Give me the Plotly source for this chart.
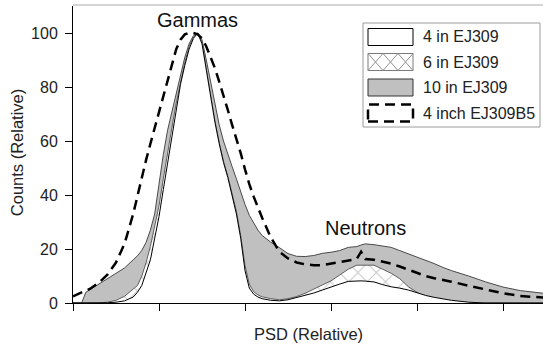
import plotly.graph_objects as go

# PSD axis (relative units, unlabeled ticks at integers)
psd = [0, 0.1, 0.15, 0.2, 0.3, 0.4, 0.5, 0.6, 0.7, 0.75, 0.8, 0.85, 0.9, 0.95,
       1.0, 1.05, 1.1, 1.15, 1.2, 1.25, 1.3, 1.35, 1.4, 1.45, 1.5, 1.55, 1.6,
       1.65, 1.7, 1.75, 1.8, 1.85, 1.9, 1.95, 2.0, 2.05, 2.1, 2.15, 2.2, 2.3,
       2.4, 2.5, 2.6, 2.7, 2.8, 2.9, 3.0, 3.1, 3.2, 3.3, 3.35, 3.4, 3.5, 3.6,
       3.7, 3.8, 3.9, 4.0, 4.1, 4.2, 4.3, 4.4, 4.6, 4.8, 5.0, 5.2, 5.47]

ej309_4in = [0, 0, 0, 0, 0, 0.1, 0.3, 0.8, 2.2, 4, 6.5, 11, 16, 24,
             32, 42, 52, 62, 72, 81, 88, 94, 98, 100, 96, 86, 76,
             67, 59, 52, 46.5, 40, 33, 24, 12, 5.5, 3.3, 2.2, 1.6, 1.0,
             0.8, 1.2, 2, 2.8, 3.7, 4.8, 6, 7, 8, 8.2, 8.2, 8.1, 7.8, 6.8,
             6, 5.5, 4.8, 3.8, 2.8, 2.1, 1.5, 1.0, 0.3, 0, 0, 0, 0]

ej309_6in = [0, 0, 0, 0, 0.1, 0.3, 1.0, 2.5, 5, 6.5, 10, 15, 21, 28,
             36, 46, 56, 65, 74, 82, 89, 95, 98.5, 100, 96.5, 86.5, 76.5,
             67.5, 59.5, 52.5, 47, 41, 34, 25, 14, 7, 4.2, 3, 2.3, 1.6,
             1.2, 1.6, 2.4, 3.6, 5, 6.7, 8.2, 10.3, 12.5, 14, 14, 14, 14, 12.5,
             11, 9, 6, 4, 2, 1.2, 0.7, 0.3, 0, 0, 0, 0, 0]

ej309_10in = [0, 0, 4, 5, 7, 9, 10.8, 13, 16, 17.5, 19.5, 22.5, 27, 33,
              44, 55, 64, 71, 78, 85, 91, 96, 99, 100, 97.5, 90, 82,
              74, 66, 60, 55, 50.5, 46, 41, 36.5, 32.5, 29.5, 27, 25, 22.5,
              20.5, 18.3, 17.3, 17.2, 17.6, 18.4, 18.8, 19.4, 20.6, 20.9, 21.5, 21.9, 21.6, 21.2,
              20.6, 19.4, 18.2, 17.2, 16, 14.6, 13.2, 12, 10, 7.8, 5.9, 4.6, 3.6]

ej309b5_4in = [2.5, 3.8, 4.5, 5.3, 7.5, 10.5, 15, 22, 33, 40, 46.5, 53, 59, 65,
               71, 77, 83, 89, 94, 97.5, 99.5, 100, 100, 99.5, 98, 95, 91,
               87, 82, 77, 71.5, 66, 61, 55.5, 49.5, 44, 39.5, 35.5, 31.5, 24.3,
               19, 16.5, 15, 14.3, 14, 14, 14.6, 15, 15.8, 16.3, 19, 16.3, 16, 15.3,
               14.6, 13.5, 12.3, 11, 10, 9.2, 8.6, 7.9, 6.4, 4.9, 3.6, 2.6, 2.0]

x_ticks = [0, 1, 2, 3, 4, 5]
y_ticks = [0, 20, 40, 60, 80, 100]
legend_labels = ["4 in EJ309", "6 in EJ309", "10 in EJ309", "4 inch EJ309B5"]

FONT = "Liberation Sans, Arial, sans-serif"
TXT = "#222222"
GRAY_FILL = "#c0c0c0"
HATCH = "#8e8e8e"

W, H = 543, 348
ML, MR, MT, MB = 73, 0, 6, 45
PW, PH = W - ML - MR, H - MT - MB


def px_x(p):
    return (p - ML) / PW


def px_y(p):
    return (H - MB - p) / PH


fig = go.Figure()

# 10 in: solid gray area
fig.add_trace(go.Scatter(
    x=psd, y=ej309_10in, mode="lines", fill="tozeroy",
    fillcolor=GRAY_FILL, line=dict(color="#4a4a4a", width=1),
    name=legend_labels[2], showlegend=False))

# 6 in: cross-hatched area
fig.add_trace(go.Scatter(
    x=psd, y=ej309_6in, mode="lines", fill="tozeroy", fillcolor="white",
    fillpattern=dict(shape="x", fgcolor=HATCH, bgcolor="white",
                     size=13, solidity=0.15),
    line=dict(color="#606060", width=1),
    name=legend_labels[1], showlegend=False))

# 4 in: white area
fig.add_trace(go.Scatter(
    x=psd, y=ej309_4in, mode="lines", fill="tozeroy", fillcolor="white",
    line=dict(color="black", width=1),
    name=legend_labels[0], showlegend=False))

# 4 inch EJ309B5: dashed line
fig.add_trace(go.Scatter(
    x=psd, y=ej309b5_4in, mode="lines",
    line=dict(color="black", width=2.5, dash="10px,6px"),
    name=legend_labels[3], showlegend=False))

shapes = []
# top frame line
shapes.append(dict(type="line", xref="paper", yref="paper", x0=0, x1=1,
                   y0=px_y(5), y1=px_y(5), line=dict(color="#aaaaaa", width=1),
                   layer="above"))

# legend frame
shapes.append(dict(type="rect", xref="paper", yref="paper",
                   x0=px_x(363), x1=px_x(540), y0=px_y(127), y1=px_y(23),
                   line=dict(color="#9a9a9a", width=1), fillcolor="white",
                   layer="above"))

sw_x0, sw_x1 = 368, 413
row_tops = [28.5, 53.5, 79, 104.5]
sw_h = 17

# swatch 1: white box
t = row_tops[0]
shapes.append(dict(type="rect", xref="paper", yref="paper",
                   x0=px_x(sw_x0), x1=px_x(sw_x1), y0=px_y(t + sw_h), y1=px_y(t),
                   line=dict(color="black", width=1), fillcolor="white", layer="above"))

# swatch 2: cross-hatched box
t = row_tops[1]
shapes.append(dict(type="rect", xref="paper", yref="paper",
                   x0=px_x(sw_x0), x1=px_x(sw_x1), y0=px_y(t + sw_h), y1=px_y(t),
                   line=dict(color="#7a7a7a", width=1), fillcolor="white", layer="above"))
cell = (sw_x1 - sw_x0) / 3
path = ""
for k in range(3):
    a = sw_x0 + k * cell
    b = a + cell
    path += f"M{px_x(a)},{px_y(t)} L{px_x(b)},{px_y(t + sw_h)} "
    path += f"M{px_x(a)},{px_y(t + sw_h)} L{px_x(b)},{px_y(t)} "
shapes.append(dict(type="path", xref="paper", yref="paper", path=path,
                   line=dict(color=HATCH, width=1), layer="above"))

# swatch 3: gray box
t = row_tops[2]
shapes.append(dict(type="rect", xref="paper", yref="paper",
                   x0=px_x(sw_x0), x1=px_x(sw_x1), y0=px_y(t + sw_h), y1=px_y(t),
                   line=dict(color="#333333", width=1), fillcolor=GRAY_FILL, layer="above"))

# swatch 4: dashed box
t = row_tops[3]
shapes.append(dict(type="rect", xref="paper", yref="paper",
                   x0=px_x(sw_x0), x1=px_x(sw_x1), y0=px_y(t + sw_h), y1=px_y(t),
                   line=dict(color="black", width=2.5, dash="10px,6px"),
                   fillcolor="white", layer="above"))

annotations = []
for lab, t in zip(legend_labels, row_tops):
    annotations.append(dict(text=lab, xref="paper", yref="paper",
                            x=px_x(421), y=px_y(t + sw_h / 2),
                            xanchor="left", yanchor="middle", showarrow=False,
                            font=dict(family=FONT, size=16, color=TXT)))

annotations.append(dict(text="Gammas", xref="paper", yref="paper",
                        x=px_x(197.5), y=px_y(20), xanchor="center", yanchor="middle",
                        showarrow=False, font=dict(family=FONT, size=20, color="#111111")))
annotations.append(dict(text="Neutrons", xref="paper", yref="paper",
                        x=px_x(365.5), y=px_y(227.5), xanchor="center", yanchor="middle",
                        showarrow=False, font=dict(family=FONT, size=20, color="#111111")))
annotations.append(dict(text="Counts (Relative)", xref="paper", yref="paper",
                        x=px_x(16.7), y=px_y(152.5), xanchor="center", yanchor="middle",
                        textangle=-90, showarrow=False,
                        font=dict(family=FONT, size=16.5, color=TXT)))
annotations.append(dict(text="PSD (Relative)", xref="paper", yref="paper",
                        x=px_x(308), y=px_y(334), xanchor="center", yanchor="middle",
                        showarrow=False, font=dict(family=FONT, size=16.5, color=TXT)))

fig.update_layout(
    width=W, height=H,
    margin=dict(l=ML, r=MR, t=MT, b=MB),
    paper_bgcolor="white", plot_bgcolor="white",
    showlegend=False,
    font=dict(family=FONT, color=TXT),
    shapes=shapes, annotations=annotations,
    xaxis=dict(range=[0, PW / 86], tickvals=x_ticks, showticklabels=False,
               ticks="outside", ticklen=7, tickcolor="black", tickwidth=1,
               showline=True, linecolor="black", linewidth=1,
               showgrid=False, zeroline=False, fixedrange=True),
    yaxis=dict(range=[0, 110], tickvals=y_ticks, ticks="outside", ticklen=7,
               tickcolor="black", tickwidth=1, showline=True, linecolor="black",
               linewidth=1, showgrid=False, zeroline=False,
               tickfont=dict(family=FONT, size=16, color=TXT),
               ticklabelstandoff=4, fixedrange=True),
)

fig.write_html("out.html")
